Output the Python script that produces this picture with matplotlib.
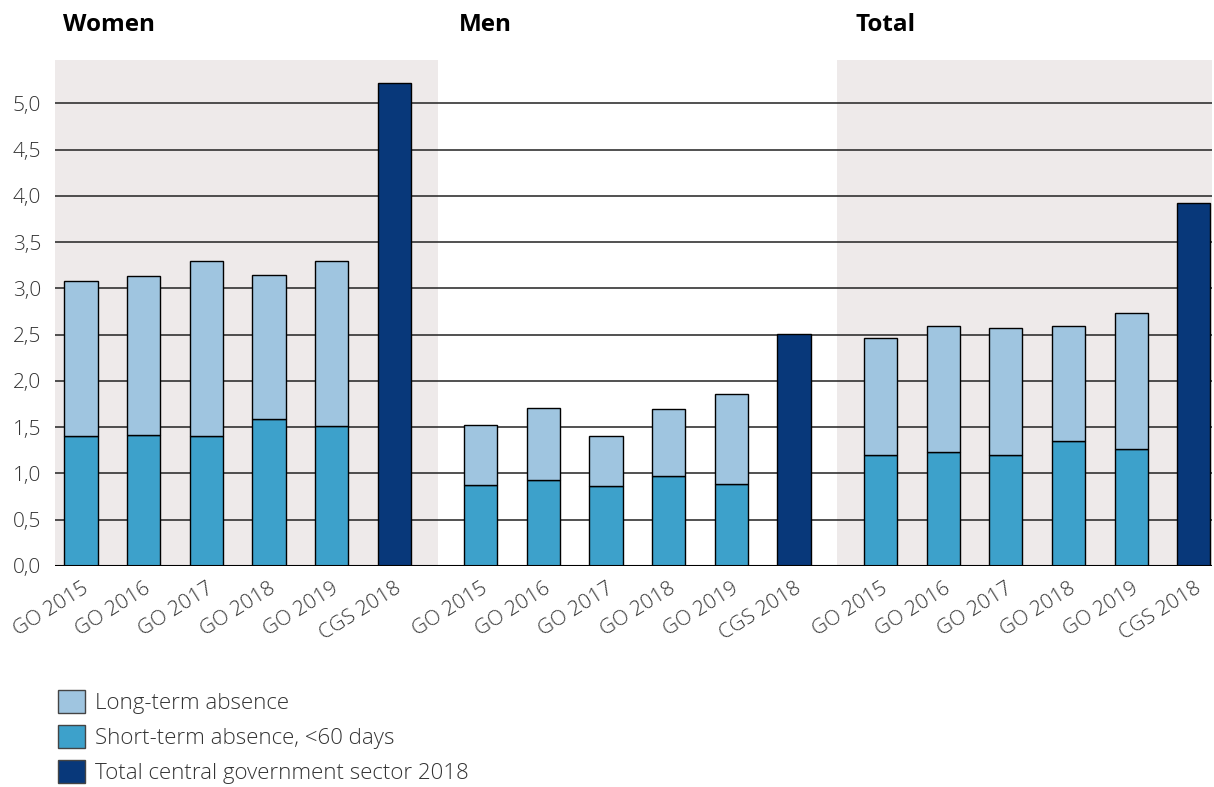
import numpy as np
import matplotlib
matplotlib.use("Agg")
import matplotlib.pyplot as plt
from matplotlib.patches import Patch

plt.rcParams['font.family'] = ['Open Sans', 'DejaVu Sans']

groups = ["Women", "Men", "Total"]
labels = ["GO 2015", "GO 2016", "GO 2017", "GO 2018", "GO 2019", "CGS 2018"]

# short-term absence and total (short + long) for GO years, per group
short_women = [1.41, 1.42, 1.41, 1.59, 1.51]
top_women = [3.08, 3.13, 3.30, 3.15, 3.30]
short_men = [0.88, 0.93, 0.86, 0.97, 0.89]
top_men = [1.52, 1.71, 1.40, 1.70, 1.86]
short_total = [1.20, 1.23, 1.20, 1.35, 1.26]
top_total = [2.47, 2.59, 2.57, 2.59, 2.73]
cgs_2018 = [5.22, 2.51, 3.92]

yticks = [0.0, 0.5, 1.0, 1.5, 2.0, 2.5, 3.0, 3.5, 4.0, 4.5, 5.0]

c_long = "#9fc5e0"
c_short = "#3da1cb"
c_cgs = "#08387a"
c_shade = "#eeeaea"
txt = "#333333"

fig = plt.figure(figsize=(12.14, 7.87), dpi=100)
ax = fig.add_axes([55 / 1214, 1 - 566 / 787, (1212 - 55) / 1214, (566 - 60) / 787])

gap = 1.38
starts = [0, 5 + gap, 2 * (5 + gap)]
shorts = [short_women, short_men, short_total]
tops = [top_women, top_men, top_total]
w = 0.53

xlim = (-0.415, starts[2] + 5 + 0.29)
bounds = [xlim[0], 5 + gap / 2, starts[1] + 5 + gap / 2, xlim[1]]
for i in (0, 2):
    ax.axvspan(bounds[i], bounds[i + 1], color=c_shade, zorder=0, lw=0)

title_x = [63, 459, 856]
xs_all = []
for g in range(3):
    x = starts[g] + np.arange(5)
    s = np.array(shorts[g])
    t = np.array(tops[g])
    ax.bar(x, s, width=w, color=c_short, edgecolor="black", lw=1, zorder=3)
    ax.bar(x, t - s, bottom=s, width=w, color=c_long, edgecolor="black", lw=1, zorder=3)
    ax.bar(starts[g] + 5, cgs_2018[g], width=w, color=c_cgs, edgecolor="black", lw=1, zorder=3)
    xs_all.extend(list(x) + [starts[g] + 5])
    fig.text(title_x[g] / 1214, 1 - 25 / 787, groups[g],
             fontsize=17.5, fontweight="bold", color="black", va="center", ha="left")

for yv in yticks[1:]:
    ax.axhline(yv, color="#222222", lw=1.1, zorder=1)
ax.axhline(0, color="black", lw=1.5, zorder=4)

ax.set_xlim(*xlim)
ax.set_ylim(0, 5.47)
ax.set_yticks(yticks)
ax.set_yticklabels([f"{v:.1f}".replace(".", ",") for v in yticks], fontsize=15,
                   color=txt, fontweight="light")
ax.set_xticks(xs_all)
ax.set_xticklabels(labels * 3, rotation=32, ha="right", rotation_mode="anchor",
                   fontsize=15, color=txt, fontweight="light")
ax.tick_params(axis="y", length=0, pad=10)
ax.tick_params(axis="x", length=0, pad=9)
for sp in ax.spines.values():
    sp.set_visible(False)

handles = [Patch(facecolor=c_long, edgecolor="#444444"),
           Patch(facecolor=c_short, edgecolor="#444444"),
           Patch(facecolor=c_cgs, edgecolor="#444444")]
leg_labels = ["Long-term absence", "Short-term absence, <60 days",
              "Total central government sector 2018"]
leg = fig.legend(handles, leg_labels, loc="upper left", bbox_to_anchor=(58 / 1214, 1 - 690 / 787),
                 frameon=False, fontsize=16, handlelength=1.2, handleheight=1.2,
                 handletextpad=0.45, labelspacing=0.5, labelcolor=txt,
                 borderpad=0, borderaxespad=0)
for t in leg.get_texts():
    t.set_fontweight("light")

fig.savefig("out.png", dpi=100)
